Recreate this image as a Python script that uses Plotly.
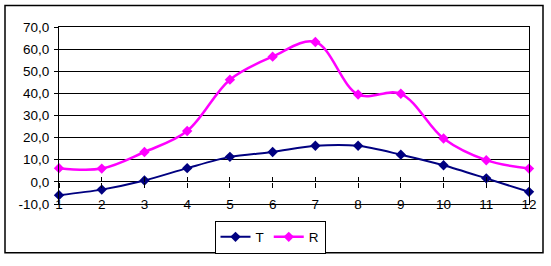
import plotly.graph_objects as go

months = [1, 2, 3, 4, 5, 6, 7, 8, 9, 10, 11, 12]
month_labels = ["1", "2", "3", "4", "5", "6", "7", "8", "9", "10", "11", "12"]
T = [-6.0, -3.5, 0.6, 6.2, 11.3, 13.5, 16.3, 16.3, 12.3, 7.5, 1.6, -4.5]
R = [6.2, 6.0, 13.5, 23.0, 46.2, 56.6, 63.2, 39.5, 39.8, 19.6, 9.8, 6.0]
y_ticks = [-10, 0, 10, 20, 30, 40, 50, 60, 70]
y_tick_labels = ["-10,0", "0,0", "10,0", "20,0", "30,0", "40,0", "50,0", "60,0", "70,0"]

W, H = 551, 266
L, Rm, Tm, B = 59, 22, 27, 57
pw, ph = W - L - Rm, H - Tm - B
FONT = dict(family="Liberation Sans, Arial", size=13.5, color="black")

fig = go.Figure()
fig.add_trace(go.Scatter(x=months, y=T, name="T", mode="lines+markers",
                         line=dict(color="#000080", width=2, shape="spline", smoothing=0.8),
                         marker=dict(symbol="diamond", size=8, color="#000080"),
                         cliponaxis=False))
fig.add_trace(go.Scatter(x=months, y=R, name="R", mode="lines+markers",
                         line=dict(color="#FF00FF", width=2.5, shape="spline", smoothing=1.0),
                         marker=dict(symbol="diamond", size=8, color="#FF00FF"),
                         cliponaxis=False))
# invisible helper traces for the tick-mark / label axes
for ax in ["x2", "x3", "x4"]:
    fig.add_trace(go.Scatter(x=[months[0]], y=[T[0]], xaxis=ax, showlegend=False,
                             mode="markers", marker=dict(opacity=0), hoverinfo="skip"))

zero_pos = (0 - y_ticks[0]) / (y_ticks[-1] - y_ticks[0])
label_pos = 10 / ph

common = dict(range=[1, 12], overlaying="x", anchor="free", tickvals=months,
              showgrid=False, zeroline=False, showline=False)

fig.update_layout(
    width=W, height=H,
    margin=dict(l=L, r=Rm, t=Tm, b=B, pad=0),
    paper_bgcolor="white", plot_bgcolor="white",
    font=FONT,
    xaxis=dict(range=[1, 12], tickvals=months, showticklabels=False,
               showgrid=False, zeroline=False, showline=True, linecolor="black",
               linewidth=1, mirror=True, ticks=""),
    xaxis2=dict(common, position=zero_pos, showticklabels=False, ticks="outside",
                ticklen=5, tickcolor="black"),
    xaxis3=dict(common, position=zero_pos, showticklabels=False, ticks="inside",
                ticklen=5, tickcolor="black"),
    xaxis4=dict(common, position=label_pos, ticktext=month_labels, ticks="",
                showticklabels=True, tickfont=FONT),
    yaxis=dict(range=[-10, 70], tickvals=y_ticks, ticktext=y_tick_labels,
               showgrid=True, gridcolor="black", gridwidth=1,
               zeroline=True, zerolinecolor="black", zerolinewidth=1,
               showline=True, linecolor="black", linewidth=1, mirror=True,
               ticks="outside", ticklen=4, tickcolor="black", tickfont=FONT,
               ticklabelstandoff=2),
    legend=dict(orientation="h", x=(270 - L) / pw, y=(H - B - 243) / ph,
                xanchor="center", yanchor="middle",
                bordercolor="black", borderwidth=1, bgcolor="white",
                font=FONT, itemwidth=30, tracegroupgap=0),
    showlegend=True,
)

fig.add_shape(type="rect", xref="paper", yref="paper",
              x0=(5 - L) / pw, x1=(543 - L) / pw,
              y0=(H - B - 259) / ph, y1=(H - B - 5) / ph,
              line=dict(color="black", width=1.5), layer="below")

fig.write_html("out.html", config={"displayModeBar": False},
               post_script="document.body.style.margin='0';")
